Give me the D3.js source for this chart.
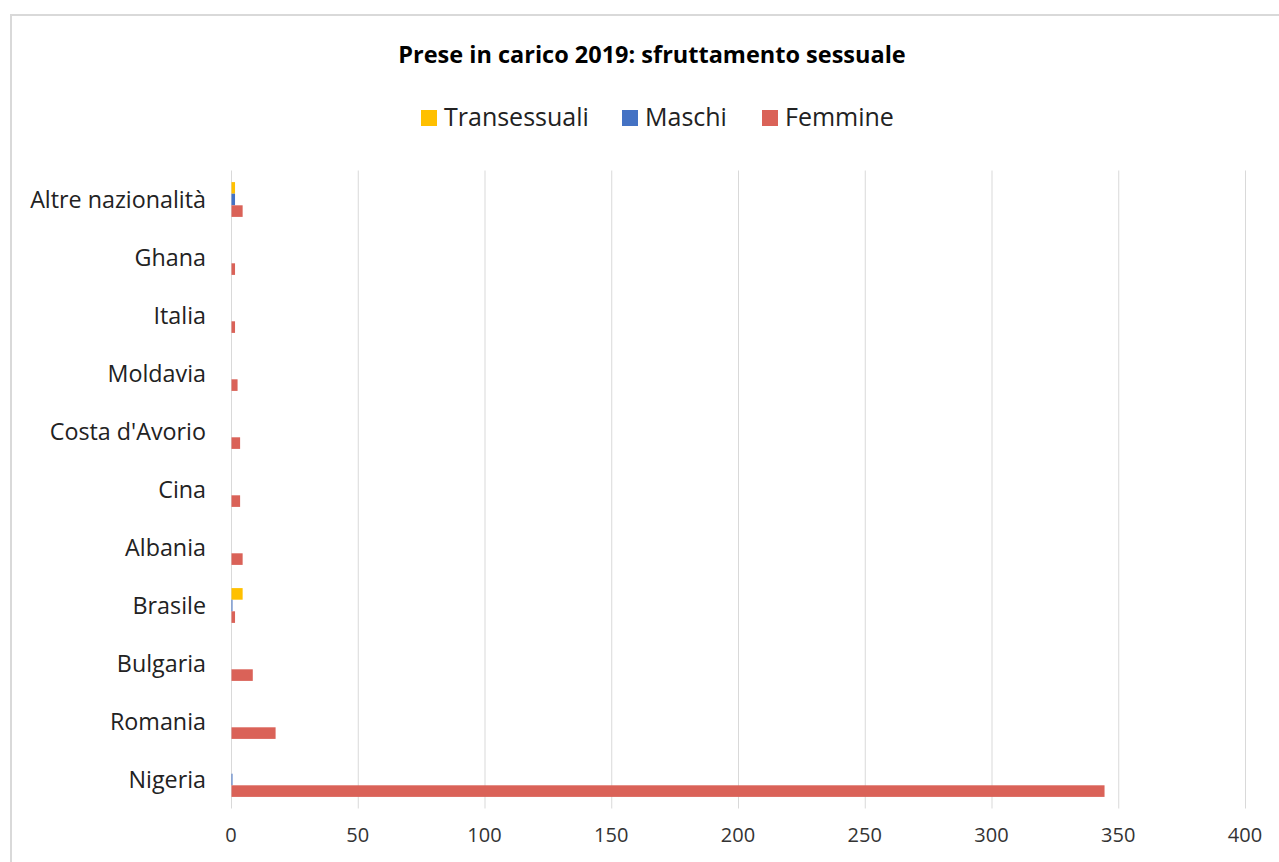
<!DOCTYPE html>
<html><head><meta charset="utf-8">
<script src="https://cdn.jsdelivr.net/npm/d3@7"></script>
<style>body{margin:0;background:#fff;}svg{display:block;font-family:"Open Sans","Liberation Sans",Arial,sans-serif;}</style>
</head><body><svg id="c" width="1279" height="862"></svg>
<script>
const categories = ["Altre nazionalità","Ghana","Italia","Moldavia","Costa d'Avorio","Cina","Albania","Brasile","Bulgaria","Romania","Nigeria"];
const seriesNames = ["Transessuali","Maschi","Femmine"];
const seriesColors = ["#FFC000","#4472C4","#DA6258"];
const transessuali = [1,null,null,null,null,null,null,4,null,null,null];
const maschi       = [1,null,null,null,null,null,null,0,null,null,0];
const femmine      = [4,1,1,2,3,3,4,1,8,17,344];
const xTicks = [0,50,100,150,200,250,300,350,400];
const title = "Prese in carico 2019: sfruttamento sessuale";

const values = [transessuali, maschi, femmine];
const svg = d3.select("#c");
svg.append("rect").attr("x",11).attr("y",15).attr("width",1290).attr("height",900)
  .attr("fill","#fff").attr("stroke","#d9d9d9").attr("stroke-width",2);

const x = d3.scaleLinear().domain([0,400]).range([231,1245]);
const y0 = d3.scaleBand().domain(categories).range([170.5,808.5]);
const y1 = d3.scaleBand().domain(seriesNames).range([y0.bandwidth()*0.2, y0.bandwidth()*0.8]);

// gridlines
svg.append("g").selectAll("line").data(xTicks).join("line")
  .attr("x1",d=>x(d)+0.5).attr("x2",d=>x(d)+0.5).attr("y1",y0.range()[0]).attr("y2",y0.range()[1])
  .attr("stroke","#d9d9d9").attr("stroke-width",1);

// bars
const g = svg.append("g");
categories.forEach((c,i)=>{
  seriesNames.forEach((s,j)=>{
    const v = values[j][i];
    if(v===null) return;
    g.append("rect")
      .attr("x",x(0)+0.5)
      .attr("y",y0(c)+y1(s))
      .attr("width",Math.max(x(v)-x(0)+1,1))
      .attr("height",y1.bandwidth())
      .attr("fill",seriesColors[j]);
  });
});

// category labels
svg.append("g").selectAll("text").data(categories).join("text")
  .attr("x",206).attr("y",d=>y0(d)+y0.bandwidth()/2).attr("dy","0.35em")
  .attr("text-anchor","end").attr("font-size",23.3).attr("fill","#222").text(d=>d);

// x tick labels
svg.append("g").selectAll("text").data(xTicks).join("text")
  .attr("x",d=>x(d)).attr("y",835).attr("dy","0.35em")
  .attr("text-anchor","middle").attr("font-size",20).attr("fill","#333").text(d=>d);

// title
svg.append("text").attr("x",652).attr("y",55).attr("dy","0.35em").attr("text-anchor","middle")
  .attr("font-size",23.5).attr("font-weight","bold").attr("fill","#000").text(title);

// legend
const legendX = [421,622,762];
const lg = svg.append("g");
seriesNames.forEach((s,j)=>{
  lg.append("rect").attr("x",legendX[j]).attr("y",110).attr("width",16).attr("height",16).attr("fill",seriesColors[j]);
  lg.append("text").attr("x",legendX[j]+23).attr("y",117).attr("dy","0.35em").attr("font-size",25).attr("fill","#222").text(s);
});
</script></body></html>
